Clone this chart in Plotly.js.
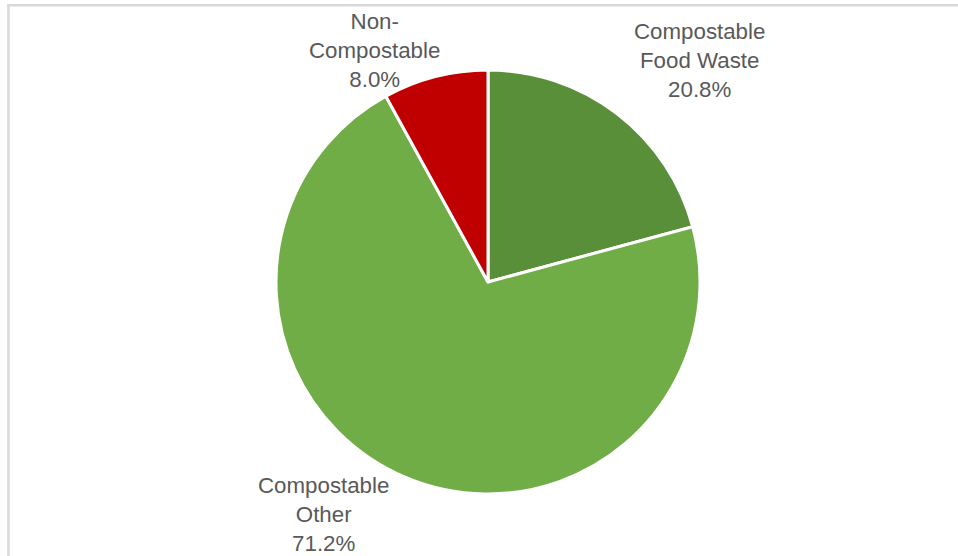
<!DOCTYPE html>
<html>
<head>
<meta charset="utf-8">
<script src="https://cdn.plot.ly/plotly-3.0.1.min.js"></script>
<style>html,body{margin:0;padding:0;background:#fff;}#chart{width:958px;height:556px;}</style>
</head>
<body>
<div id="chart"></div>
<script>
const categories = ["Compostable<br>Food Waste", "Compostable<br>Other", "Non-<br>Compostable"];
const values = [20.8, 71.2, 8.0];
const colors = ["#5a8f3a", "#70ad47", "#c00000"];
// label block centres (pixels), used only for annotation placement
const labelPos = [[699, 61], [323, 514], [374, 50]];

const W = 958, H = 556;
const annotations = categories.map((c, i) => ({
  text: c + "<br>" + values[i].toFixed(1) + "%",
  xref: "paper", yref: "paper",
  x: labelPos[i][0] / W, y: 1 - labelPos[i][1] / H,
  xanchor: "center", yanchor: "middle",
  showarrow: false,
  font: {family: "Liberation Sans, Arial, sans-serif", size: 22.3, color: "#595959"}
}));

const data = [{
  type: "pie",
  labels: categories,
  values: values,
  sort: false,
  direction: "clockwise",
  rotation: 0,
  marker: {colors: colors, line: {color: "#ffffff", width: 3}},
  textinfo: "none",
  hoverinfo: "none",
  showlegend: false,
  domain: {x: [276 / W, 700 / W], y: [1 - 495 / H, 1 - 69 / H]}
}];

const layout = {
  width: W, height: H,
  margin: {l: 0, r: 0, t: 0, b: 0},
  paper_bgcolor: "#ffffff",
  plot_bgcolor: "#ffffff",
  showlegend: false,
  annotations: annotations,
  shapes: [
    {type: "line", xref: "paper", yref: "paper", x0: 7 / W, x1: 1, y0: 1 - 5.3 / H, y1: 1 - 5.3 / H, line: {color: "#d9d9d9", width: 2.5}},
    {type: "line", xref: "paper", yref: "paper", x0: 8.5 / W, x1: 8.5 / W, y0: 0, y1: 1 - 4 / H, line: {color: "#d9d9d9", width: 2.5}}
  ]
};

Plotly.newPlot("chart", data, layout, {staticPlot: true, displayModeBar: false});
</script>
</body>
</html>
